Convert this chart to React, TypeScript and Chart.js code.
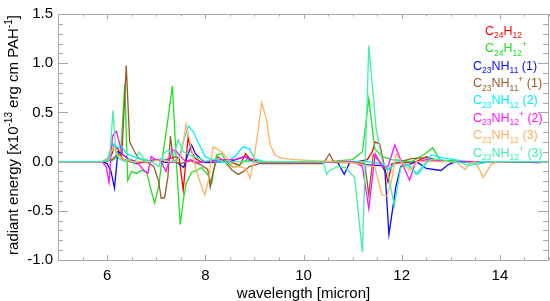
import React, { useEffect, useRef } from "react";
import { Chart, registerables } from "chart.js";

Chart.register(...registerables);

const FONT = '"Liberation Sans", Arial, Helvetica, sans-serif';

const X_MIN = 5;
const X_MAX = 15;
const Y_MIN = -1.0;
const Y_MAX = 1.5;
const X_TICKS = [6, 8, 10, 12, 14];
const Y_TICKS = [-1.0, -0.5, 0.0, 0.5, 1.0, 1.5];
const X_MINOR_STEP = 0.5;
const Y_MINOR_STEP = 0.1;

// C24H12
const redX = [5.0, 5.9, 6.0, 6.1, 6.14, 6.22, 6.3, 6.45, 6.6, 6.8, 7.0, 7.2, 7.4, 7.47, 7.55, 7.65, 7.72, 7.8, 7.9, 8.1, 8.3, 8.5, 8.7, 8.82, 8.9, 9.1, 9.5, 10.0, 10.5, 10.9, 11.1, 11.3, 11.4, 11.46, 11.55, 11.65, 11.72, 11.8, 12.0, 12.3, 12.5, 12.7, 13.0, 13.5, 15.0];
const redY = [0, 0, 0.02, 0.08, 0.15, 0.13, 0.03, 0.0, -0.02, 0.0, 0.02, 0.02, 0.05, 0.03, -0.29, 0.25, 0.1, 0.03, 0.0, -0.01, 0.0, 0.0, -0.04, 0.08, 0.03, 0.0, 0.0, 0.0, 0.0, 0.0, 0.0, 0.02, 0.1, 0.2, 0.18, -0.05, -0.21, -0.02, -0.01, 0.0, 0.05, 0.01, 0.0, 0.0, 0.0];

// C24H12+
const greenX = [5.0, 5.9, 6.1, 6.2, 6.28, 6.36, 6.42, 6.5, 6.6, 6.7, 6.8, 6.9, 6.97, 7.05, 7.12, 7.22, 7.33, 7.41, 7.49, 7.55, 7.61, 7.72, 7.82, 7.92, 8.06, 8.13, 8.23, 8.33, 8.43, 8.57, 8.7, 8.84, 9.0, 9.5, 10.5, 11.0, 11.2, 11.33, 11.45, 11.6, 11.8, 12.2, 12.45, 12.63, 12.8, 13.0, 13.5, 15.0];
const greenY = [0, 0, 0.01, 0.05, 0.1, 0.79, -0.19, -0.1, -0.12, -0.09, -0.1, -0.3, -0.42, -0.25, 0.02, 0.36, 0.77, 0.0, -0.64, -0.4, -0.22, -0.11, -0.09, -0.06, -0.14, -0.22, 0.07, 0.08, 0.0, -0.06, -0.03, 0.02, 0.0, 0.0, 0.0, 0.02, 0.1, 0.64, 0.13, 0.05, 0.02, 0.0, 0.07, 0.14, 0.0, 0.01, 0.0, 0.0];

// C23NH11 (1)
const blueX = [5.0, 5.9, 6.0, 6.08, 6.15, 6.22, 6.3, 6.45, 6.6, 6.8, 7.0, 7.2, 7.4, 7.56, 7.63, 7.72, 7.8, 7.9, 8.0, 8.2, 8.5, 8.8, 9.0, 9.5, 10.5, 10.7, 10.83, 10.95, 11.2, 11.6, 11.66, 11.74, 11.88, 11.98, 12.2, 12.3, 12.5, 12.8, 12.95, 13.1, 13.5, 14.0, 14.8, 15.0];
const blueY = [0, 0, -0.02, -0.1, -0.27, 0.1, 0.08, 0.02, 0.0, 0.0, 0.02, -0.01, 0.0, -0.06, 0.05, 0.17, 0.08, 0.03, -0.01, 0.0, 0.0, 0.05, 0.0, 0.0, 0.0, -0.01, -0.13, 0.0, -0.03, -0.04, -0.1, -0.74, -0.26, -0.05, -0.02, 0.0, -0.07, -0.09, -0.03, 0.0, 0.0, 0.0, -0.01, 0.0];

// C23NH11+ (1)
const brownX = [5.0, 5.9, 6.1, 6.22, 6.3, 6.39, 6.46, 6.56, 6.63, 6.8, 6.95, 7.05, 7.1, 7.17, 7.24, 7.29, 7.35, 7.5, 7.7, 7.9, 8.05, 8.1, 8.16, 8.25, 8.4, 8.55, 8.67, 8.78, 8.9, 9.1, 9.5, 10.0, 10.4, 10.53, 10.62, 10.8, 11.1, 11.25, 11.33, 11.42, 11.55, 11.72, 11.9, 12.2, 12.5, 12.7, 13.0, 13.5, 15.0];
const brownY = [0, 0, 0.02, 0.08, 0.05, 0.976, 0.2, 0.1, 0.04, 0.0, -0.05, -0.2, -0.37, -0.37, -0.15, 0.26, 0.0, -0.02, 0.01, -0.03, -0.08, -0.26, -0.1, 0.05, 0.0, -0.09, -0.13, -0.1, -0.05, -0.02, -0.02, -0.02, -0.02, 0.08, -0.01, -0.01, -0.01, -0.02, -0.34, 0.07, 0.0, -0.08, -0.01, 0.03, 0.04, 0.02, 0.0, 0.0, 0.0];

// C23NH12 (2)
const cyanX = [5.0, 5.9, 6.0, 6.12, 6.22, 6.3, 6.4, 6.55, 6.7, 6.9, 7.1, 7.3, 7.45, 7.58, 7.66, 7.76, 7.85, 8.0, 8.2, 8.4, 8.6, 8.77, 8.9, 9.0, 9.2, 9.6, 10.0, 10.5, 11.0, 11.3, 11.6, 11.75, 11.9, 12.1, 12.33, 12.45, 12.6, 12.8, 13.2, 13.5, 13.8, 15.0];
const cyanY = [0, 0, 0.03, 0.18, 0.14, 0.15, 0.08, 0.05, 0.02, 0.0, 0.03, 0.0, 0.02, 0.25, 0.36, 0.3, 0.2, 0.05, 0.0, -0.01, 0.05, 0.15, 0.13, 0.03, 0.0, 0.0, 0.0, 0.0, 0.0, 0.0, -0.02, -0.08, 0.02, -0.03, -0.13, -0.05, 0.07, 0.04, 0.01, -0.03, 0.0, 0.0];

// C23NH12+ (2)
const magentaX = [5.0, 5.9, 5.98, 6.04, 6.11, 6.19, 6.26, 6.32, 6.45, 6.6, 6.77, 6.83, 6.9, 6.98, 7.08, 7.2, 7.33, 7.4, 7.5, 7.6, 7.7, 7.85, 8.0, 8.3, 8.6, 8.8, 9.0, 9.5, 10.5, 11.0, 11.2, 11.33, 11.46, 11.6, 11.72, 11.86, 12.0, 12.16, 12.28, 12.5, 13.0, 15.0];
const magentaY = [0, 0, -0.05, -0.21, 0.26, 0.31, 0.17, 0.07, 0.02, 0.0, -0.1, -0.12, 0.05, 0.02, 0.02, -0.1, 0.12, 0.11, 0.05, 0.0, 0.02, -0.01, 0.0, 0.02, 0.02, 0.05, 0.0, 0.0, 0.0, 0.0, -0.05, -0.48, 0.08, -0.05, -0.05, 0.17, -0.01, -0.19, -0.01, 0.02, 0.0, 0.0];

// C23NH12 (3)
const orangeX = [5.0, 5.9, 6.0, 6.14, 6.22, 6.35, 6.5, 6.7, 6.9, 7.1, 7.25, 7.4, 7.5, 7.61, 7.7, 7.8, 7.9, 7.99, 8.06, 8.16, 8.27, 8.37, 8.47, 8.57, 8.67, 8.77, 8.84, 8.91, 8.98, 9.07, 9.15, 9.25, 9.32, 9.42, 9.52, 9.8, 10.2, 10.6, 11.0, 11.3, 11.45, 11.6, 11.7, 11.79, 11.89, 12.0, 12.17, 12.3, 12.5, 12.9, 13.1, 13.29, 13.39, 13.5, 13.66, 13.82, 13.95, 15.0];
const orangeY = [0, 0, 0.02, 0.15, 0.07, 0.02, 0.0, 0.0, 0.0, 0.02, 0.0, 0.0, 0.05, 0.38, 0.17, -0.06, -0.22, -0.34, -0.2, 0.15, 0.12, 0.08, 0.02, -0.06, -0.05, -0.06, -0.08, -0.17, 0.0, 0.3, 0.6, 0.42, 0.17, 0.07, 0.04, 0.02, 0.01, 0.0, -0.01, -0.04, -0.05, -0.34, -0.35, -0.2, 0.08, -0.01, -0.09, 0.0, 0.0, 0.0, 0.0, -0.08, -0.02, 0.0, -0.16, -0.03, 0.0, 0.0];

// C23NH12+ (3)
const aquaX = [5.0, 5.9, 6.0, 6.05, 6.12, 6.18, 6.25, 6.35, 6.45, 6.55, 6.65, 6.75, 6.9, 7.05, 7.15, 7.25, 7.35, 7.45, 7.55, 7.65, 7.75, 7.9, 8.0, 8.2, 8.4, 8.6, 8.8, 9.0, 9.3, 9.8, 10.2, 10.4, 10.47, 10.53, 10.7, 10.85, 11.04, 11.2, 11.33, 11.48, 11.61, 11.71, 11.85, 11.98, 12.15, 12.29, 12.45, 12.6, 12.8, 13.0, 13.2, 13.39, 13.6, 15.0];
const aquaY = [0, 0, 0.01, 0.02, 0.52, 0.08, 0.03, 0.0, 0.03, -0.03, 0.1, 0.03, 0.0, -0.05, 0.08, 0.12, 0.06, 0.22, 0.1, 0.08, 0.05, 0.03, 0.0, 0.03, -0.01, 0.0, 0.0, 0.0, 0.0, 0.0, 0.0, 0.0, -0.13, -0.09, -0.05, -0.06, -0.16, -0.92, 1.18, 0.33, 0.0, -0.09, -0.45, -0.06, -0.03, -0.13, -0.03, 0.02, 0.02, 0.0, -0.01, -0.04, 0.0, 0.0];

// Legend labels: [text, kind] kind 0 = normal, -1 = subscript, 1 = superscript
type Part = [string, number];
const LABELS: Part[][] = [
  [["C", 0], ["24", -1], ["H", 0], ["12", -1]],
  [["C", 0], ["24", -1], ["H", 0], ["12", -1], ["+", 1]],
  [["C", 0], ["23", -1], ["NH", 0], ["11", -1], [" (1)", 0]],
  [["C", 0], ["23", -1], ["NH", 0], ["11", -1], ["+", 1], [" (1)", 0]],
  [["C", 0], ["23", -1], ["NH", 0], ["12", -1], [" (2)", 0]],
  [["C", 0], ["23", -1], ["NH", 0], ["12", -1], ["+", 1], [" (2)", 0]],
  [["C", 0], ["23", -1], ["NH", 0], ["12", -1], [" (3)", 0]],
  [["C", 0], ["23", -1], ["NH", 0], ["12", -1], ["+", 1], [" (3)", 0]],
];
const COLORS = ["#ff0000", "#22e022", "#0a0aff", "#9a5a2a", "#00f0ff", "#ff10ff", "#ffb060", "#40f0a8"];
const SERIES_X = [redX, greenX, blueX, brownX, cyanX, magentaX, orangeX, aquaX];
const SERIES_Y = [redY, greenY, blueY, brownY, cyanY, magentaY, orangeY, aquaY];

const Y_TITLE: Part[] = [["radiant energy [x10", 0], ["-13", 1], [" erg cm PAH", 0], ["-1", 1], ["]", 0]];
const X_TITLE = "wavelength [micron]";

function drawParts(ctx: CanvasRenderingContext2D, parts: Part[], x: number, y: number, main: number, small: number, subDrop: number, supRise: number) {
  let cx = x;
  for (const [text, kind] of parts) {
    const size = kind === 0 ? main : small;
    ctx.font = `${size}px ${FONT}`;
    const dy = kind === -1 ? subDrop : kind === 1 ? -supRise : 0;
    ctx.fillText(text, cx, y + dy);
    cx += ctx.measureText(text).width;
  }
  return cx - x;
}

function measureParts(ctx: CanvasRenderingContext2D, parts: Part[], main: number, small: number) {
  let w = 0;
  for (const [text, kind] of parts) {
    ctx.font = `${kind === 0 ? main : small}px ${FONT}`;
    w += ctx.measureText(text).width;
  }
  return w;
}

const decorPlugin = {
  id: "decor",
  afterDatasetsDraw(chart: any) {
    const ctx: CanvasRenderingContext2D = chart.ctx;
    const { left, right, top, bottom } = chart.chartArea;
    const xs = chart.scales.x;
    const ys = chart.scales.y;
    ctx.save();
    ctx.strokeStyle = "#a8a8a8";
    ctx.lineWidth = 1;
    ctx.beginPath();
    ctx.rect(Math.round(left) + 0.5, Math.round(top) + 0.5, Math.round(right - left) - 1, Math.round(bottom - top));
    ctx.stroke();
    // x ticks (top & bottom)
    ctx.beginPath();
    for (let v = X_MIN; v <= X_MAX + 1e-9; v += X_MINOR_STEP) {
      const major = X_TICKS.some((t) => Math.abs(t - v) < 1e-6);
      const len = major ? 5 : 2.5;
      const px = Math.round(xs.getPixelForValue(v)) + 0.5;
      ctx.moveTo(px, bottom);
      ctx.lineTo(px, bottom - len);
      ctx.moveTo(px, top);
      ctx.lineTo(px, top + len);
    }
    // y ticks (left & right)
    for (let i = 0; i <= Math.round((Y_MAX - Y_MIN) / Y_MINOR_STEP); i++) {
      const v = Y_MIN + i * Y_MINOR_STEP;
      const major = Y_TICKS.some((t) => Math.abs(t - v) < 1e-6);
      const len = major ? 10 : 5;
      const py = Math.round(ys.getPixelForValue(v)) + 0.5;
      ctx.moveTo(left, py);
      ctx.lineTo(left + len, py);
      ctx.moveTo(right - 1, py);
      ctx.lineTo(right - 1 - len, py);
    }
    ctx.stroke();
    ctx.restore();
  },
  afterDraw(chart: any) {
    const ctx: CanvasRenderingContext2D = chart.ctx;
    const { left, right, top, bottom } = chart.chartArea;
    ctx.save();
    ctx.fillStyle = "#000";
    ctx.textBaseline = "alphabetic";
    ctx.textAlign = "left";
    // x title
    ctx.font = `15px ${FONT}`;
    const xw = ctx.measureText(X_TITLE).width;
    ctx.fillText(X_TITLE, (left + right) / 2 - xw / 2, 298);
    // y title
    const w = measureParts(ctx, Y_TITLE, 15, 10);
    ctx.translate(18, (top + bottom) / 2 - 2);
    ctx.rotate(-Math.PI / 2);
    drawParts(ctx, Y_TITLE, -w / 2, 0, 15, 10, 3, 6);
    ctx.restore();
    // legend
    ctx.save();
    ctx.textBaseline = "alphabetic";
    ctx.textAlign = "left";
    const lx = [485, 485, 473, 473, 473, 473, 473, 473];
    LABELS.forEach((parts, i) => {
      ctx.fillStyle = COLORS[i];
      const cy = 30.5 + i * 17.4;
      drawParts(ctx, parts, lx[i], cy + 4.3, 12.5, 8.5, 3.5, 5);
    });
    ctx.restore();
  },
};

export default function App() {
  const ref = useRef<HTMLCanvasElement | null>(null);
  useEffect(() => {
    document.body.style.margin = "0";
    const canvas = ref.current!;
    const n = SERIES_X.length;
    const datasets = SERIES_X.map((xs, i) => ({
      label: LABELS[i].map((p) => p[0]).join(""),
      data: xs.map((x, j) => ({ x, y: SERIES_Y[i][j] })),
      borderColor: COLORS[i],
      backgroundColor: COLORS[i],
      borderWidth: 1.3,
      pointRadius: 0,
      tension: 0,
      fill: false,
      order: n - 1 - i,
    }));
    const chart = new Chart(canvas, {
      type: "line",
      data: { datasets },
      plugins: [decorPlugin],
      options: {
        animation: false,
        responsive: false,
        devicePixelRatio: 1,
        layout: { padding: { left: 0, top: 3, right: 1, bottom: 0 } },
        plugins: { legend: { display: false }, tooltip: { enabled: false } },
        scales: {
          x: {
            type: "linear",
            min: X_MIN,
            max: X_MAX,
            grid: { display: false, drawTicks: false },
            border: { display: false },
            ticks: { color: "#000", font: { family: FONT, size: 15 }, padding: 7, maxRotation: 0, autoSkip: false },
            afterBuildTicks: (s: any) => {
              s.ticks = X_TICKS.map((v) => ({ value: v }));
            },
            afterFit: (s: any) => {
              s.height = 41;
            },
          },
          y: {
            type: "linear",
            min: Y_MIN,
            max: Y_MAX,
            grid: { display: false, drawTicks: false },
            border: { display: false },
            ticks: {
              color: "#000",
              font: { family: FONT, size: 15 },
              padding: 5,
              autoSkip: false,
              callback: (v: any) => Number(v).toFixed(1),
            },
            afterBuildTicks: (s: any) => {
              s.ticks = Y_TICKS.map((v) => ({ value: v }));
            },
            afterFit: (s: any) => {
              s.width = 58;
            },
          },
        },
      },
    });
    return () => chart.destroy();
  }, []);
  return <canvas ref={ref} width={550} height={301} style={{ display: "block" }} />;
}
